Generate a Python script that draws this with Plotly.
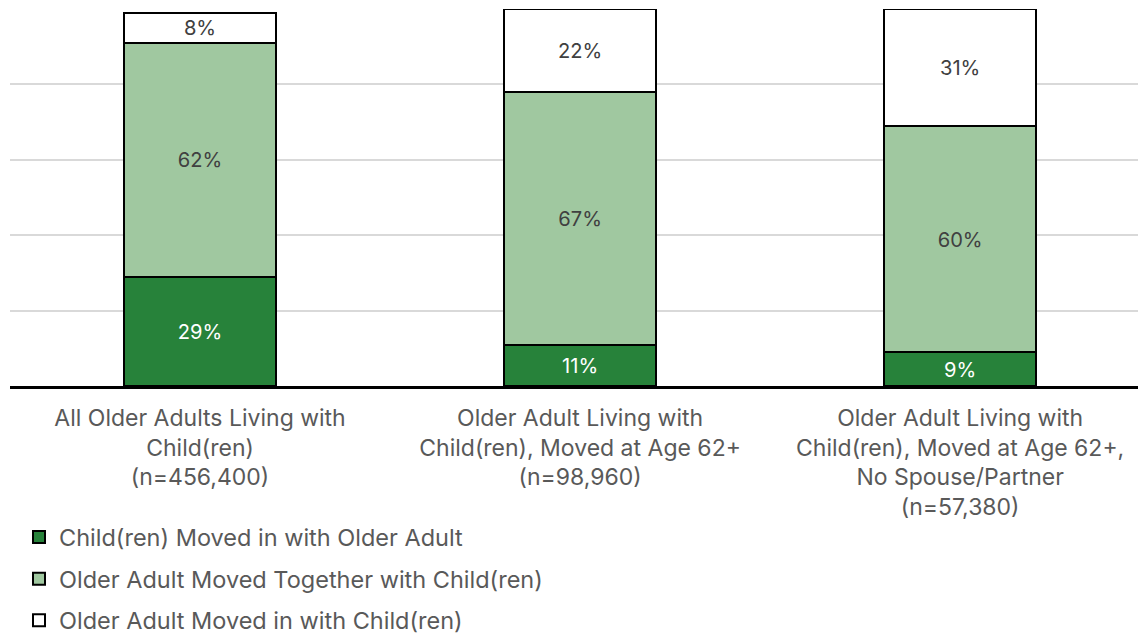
import plotly.graph_objects as go

categories = [
    "All Older Adults Living with<br>Child(ren)<br>(n=456,400)",
    "Older Adult Living with<br>Child(ren), Moved at Age 62+<br>(n=98,960)",
    "Older Adult Living with<br>Child(ren), Moved at Age 62+,<br>No Spouse/Partner<br>(n=57,380)",
]
series_names = [
    "Child(ren) Moved in with Older Adult",
    "Older Adult Moved Together with Child(ren)",
    "Older Adult Moved in with Child(ren)",
]
child_moved_in = [29, 11, 9]
moved_together = [62, 67, 60]
adult_moved_in = [8, 22, 31]

series_values = [child_moved_in, moved_together, adult_moved_in]
fill_colors = ["#27823a", "#a0c8a0", "#ffffff"]
text_colors = ["#ffffff", "#404040", "#404040"]

FONT = "Inter, Roboto, sans-serif"

fig = go.Figure()
for i, (name, vals) in enumerate(zip(series_names, series_values)):
    fig.add_trace(go.Bar(
        x=categories,
        y=vals,
        name=name,
        legendgroup=name,
        marker=dict(color=fill_colors[i], line=dict(color="#000000", width=2)),
        width=0.4,
        text=[f"{v}%" for v in vals],
        textposition="inside",
        insidetextanchor="middle",
        textangle=0,
        textfont=dict(family=FONT, size=22.5, color=text_colors[i]),
        hoverinfo="skip",
    ))

fig.update_layout(
    width=1138,
    height=635,
    barmode="stack",
    plot_bgcolor="#ffffff",
    paper_bgcolor="#ffffff",
    margin=dict(l=10, r=0, t=9, b=249, autoexpand=False),
    font=dict(family=FONT, size=23, color="#595959"),
    showlegend=True,
    legend=dict(
        orientation="v",
        x=0.008,
        xanchor="left",
        y=-0.343,
        yanchor="top",
        traceorder="grouped",
        tracegroupgap=8,
        itemwidth=30,
        font=dict(family=FONT, size=23.5, color="#595959"),
        itemclick=False,
        itemdoubleclick=False,
    ),
    uniformtext=dict(minsize=8, mode="show"),
)

fig.update_xaxes(
    range=[-0.5, 2.468],
    showline=True,
    linecolor="#000000",
    linewidth=3,
    ticks="",
    ticklabelstandoff=9,
    tickfont=dict(family=FONT, size=23, color="#595959"),
    showgrid=False,
    fixedrange=True,
)
fig.update_yaxes(
    range=[0, 100],
    tickvals=[0, 20, 40, 60, 80, 100],
    showticklabels=False,
    showgrid=True,
    gridcolor="#d9d9d9",
    gridwidth=1.5,
    zeroline=False,
    fixedrange=True,
)

fig.write_html("out.html")
